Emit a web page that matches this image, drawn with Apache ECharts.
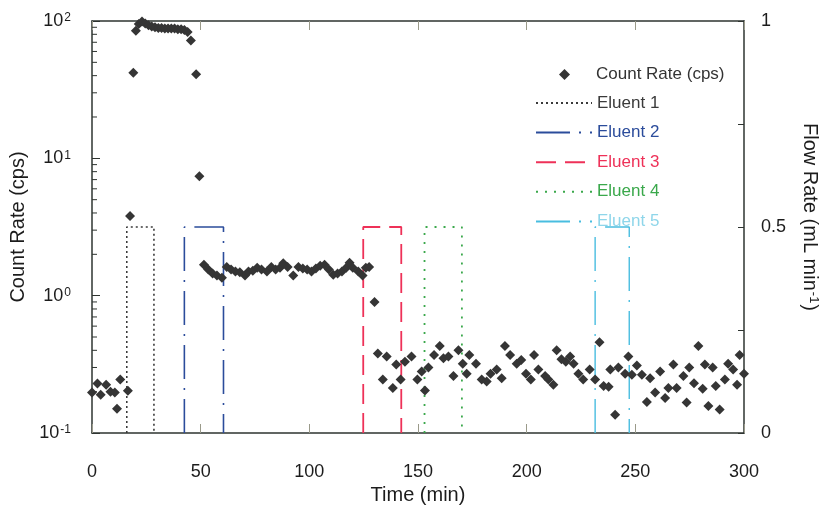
<!DOCTYPE html>
<html>
<head>
<meta charset="utf-8">
<script src="https://cdn.jsdelivr.net/npm/echarts@6/dist/echarts.min.js"></script>
<style>
  html, body { margin: 0; padding: 0; background: #ffffff; }
  #chart { width: 825px; height: 507px; }
</style>
</head>
<body>
<div id="chart"></div>
<script>
// Sampling times (min) of the count-rate measurements
const timeMin = [
  0, 2.5, 4, 6.5, 8.5, 10.5, 11.5, 13, 16.5,
  17.5, 19, 20.2, 21.5, 23, 24.5, 26, 27.5, 29, 30.5, 32, 33.5, 35, 36.5, 38, 39.5, 41, 42.5, 44, 45.5, 47.9, 49.4,
  51.5, 53.5, 55.5, 57.5, 59.8, 62, 64, 66, 68, 70.4, 72, 74, 76, 78, 80.5, 82.5, 84.5, 86.5, 88, 90,
  92.6, 95, 97, 99, 101, 103, 105, 107, 109, 111, 113, 115, 117, 118.5, 120, 122.5, 124.5, 126, 127.5, 130,
  131.5, 133.8, 135.6, 138.4, 140, 142, 144, 147, 149.7, 151.7, 153.2, 154.8, 157.4, 160, 161.7, 164,
  166.3, 168.6, 170.6, 172.4, 173.6, 176.7, 179.3, 181.6, 183.4, 186.2, 188.5, 190, 192.4, 195.4, 197.5,
  199.7, 201.9, 203.4, 205.4, 208.5, 210, 212.3, 213.8, 216, 218, 220, 221.6, 223.8, 226, 229, 231.5,
  233.5, 235.4, 237.7, 238.5, 240.7, 242.2, 245.3, 246.8, 248.4, 250.7, 253, 255.3, 256.8, 259.1, 261.4,
  263.7, 265.2, 267.5, 269, 272.1, 273.6, 274.8, 277, 279, 281, 282, 283.6, 285.6, 287, 288.8, 291.2,
  292.7, 295, 296.8, 298, 300
];
// Count rate (cps)
const countRate = [
  0.197, 0.229, 0.19, 0.225, 0.2, 0.197, 0.15, 0.245, 0.203,
  3.8, 42, 85, 95, 99, 96, 93, 91, 90, 89, 89, 88, 88, 88, 88, 87, 87, 86, 83, 72, 41, 7.4,
  1.68, 1.55, 1.45, 1.4, 1.35, 1.62, 1.55, 1.5, 1.48, 1.4, 1.5, 1.52, 1.6, 1.55, 1.5, 1.62, 1.55, 1.6, 1.72, 1.62,
  1.4, 1.62, 1.58, 1.55, 1.5, 1.58, 1.65, 1.68, 1.55, 1.42, 1.45, 1.5, 1.6, 1.74, 1.6, 1.5, 1.4, 1.6, 1.62, 0.9,
  0.38, 0.245, 0.36, 0.213, 0.315, 0.245, 0.33, 0.36, 0.245, 0.28, 0.204, 0.30, 0.37, 0.43, 0.35, 0.36,
  0.26, 0.40, 0.32, 0.27, 0.37, 0.32, 0.245, 0.237, 0.27, 0.29, 0.25, 0.43, 0.37, 0.32, 0.34,
  0.27, 0.245, 0.37, 0.29, 0.26, 0.245, 0.225, 0.40, 0.345, 0.33, 0.36, 0.32, 0.27, 0.245, 0.29, 0.245,
  0.457, 0.22, 0.217, 0.29, 0.136, 0.30, 0.27, 0.36, 0.266, 0.31, 0.266, 0.168, 0.25, 0.197, 0.28,
  0.18, 0.213, 0.315, 0.213, 0.26, 0.167, 0.30, 0.23, 0.43, 0.21, 0.315, 0.157, 0.30, 0.22, 0.148, 0.245,
  0.32, 0.29, 0.225, 0.37, 0.27
];

// Eluent programme: start / end time (min) and flow rate (mL/min)
const eluentNames = ['Eluent 1', 'Eluent 2', 'Eluent 3', 'Eluent 4', 'Eluent 5'];
const eluentStart = [16, 42.5, 124.8, 153, 231.5];
const eluentEnd = [28.5, 60.5, 142.3, 170.2, 247.2];
const eluentFlow = [0.5, 0.5, 0.5, 0.5, 0.5];

// Axis ranges and tick values
const timeRange = [0, 300];
const timeStep = 50;
const countRange = [0.1, 100];
const flowRange = [0, 1];
const flowStep = 0.25;
const flowLabels = [0, 0.5, 1];
const minorCountTicks = [
  0.2, 0.3, 0.4, 0.5, 0.6, 0.7, 0.8, 0.9,
  2, 3, 4, 5, 6, 7, 8, 9,
  20, 30, 40, 50, 60, 70, 80, 90
];

const FONT = '"Liberation Sans", Arial, Helvetica, sans-serif';
const INK = '#1c1c1c';
const AXIS = '#2e3430';

const eluentStyles = [
  { color: '#3a3a3a', type: [2, 3], width: 1.6, text: '#3a3a3a' },
  { color: '#2b4c9b', type: [34, 9, 2, 9], width: 1.6, text: '#2b4c9b' },
  { color: '#ee3158', type: [20, 9], width: 1.8, text: '#ee3158' },
  { color: '#3aa84b', type: [2, 7], width: 1.8, text: '#3aa84b' },
  { color: '#48bde0', type: [34, 9, 2, 9], width: 1.4, text: '#8fd6ea' }
];

const supRich = {
  b: { fontSize: 18, lineHeight: 18, verticalAlign: 'bottom', fontFamily: FONT, color: INK },
  s: { fontSize: 12, lineHeight: 12, verticalAlign: 'top', padding: [0, 1, 10, 1], fontFamily: FONT, color: INK }
};

const chart = echarts.init(document.getElementById('chart'), null, { renderer: 'canvas' });

const eluentSeries = eluentNames.map((name, i) => ({
  name: name,
  type: 'line',
  xAxisIndex: 0,
  yAxisIndex: 1,
  symbol: 'none',
  showSymbol: false,
  animation: false,
  silent: true,
  z: 2,
  lineStyle: { color: eluentStyles[i].color, width: eluentStyles[i].width, type: eluentStyles[i].type },
  itemStyle: { color: eluentStyles[i].color },
  data: [
    [eluentStart[i], 0],
    [eluentStart[i], eluentFlow[i]],
    [eluentEnd[i], eluentFlow[i]],
    [eluentEnd[i], 0]
  ]
}));

const option = {
  backgroundColor: '#ffffff',
  animation: false,
  textStyle: { fontFamily: FONT, color: INK },
  grid: { left: 92, right: 81, top: 21, bottom: 74, containLabel: false, outerBoundsMode: 'none' },
  legend: [
    {
      orient: 'vertical', left: 554, top: 61, itemWidth: 11, itemHeight: 11, itemGap: 10,
      textStyle: { fontSize: 17, fontFamily: FONT, color: '#333333', padding: [0, 0, 0, 21] },
      selectedMode: false,
      data: [{ name: 'Count Rate (cps)', icon: 'diamond' }]
    },
    {
      orient: 'vertical', left: 530, top: 89.5, itemWidth: 56, itemHeight: 14, itemGap: 12.6,
      textStyle: { fontSize: 17, fontFamily: FONT, lineHeight: 14, padding: [0, 0, 0, 0] },
      itemStyle: { opacity: 0, borderWidth: 0 },
      selectedMode: false,
      data: eluentNames.map((n, i) => ({ name: n, textStyle: { color: eluentStyles[i].text } }))
    }
  ],
  xAxis: [
    {
      type: 'value', min: timeRange[0], max: timeRange[1], interval: timeStep,
      position: 'bottom',
      name: 'Time (min)', nameLocation: 'middle', nameGap: 52,
      nameTextStyle: { fontSize: 20, fontFamily: FONT, color: INK },
      axisLine: { show: true, onZero: false, lineStyle: { color: AXIS, width: 1.5 } },
      axisTick: { show: true, inside: true, length: 9, lineStyle: { color: '#9a9a8a', width: 1 } },
      axisLabel: { show: true, margin: 30, fontSize: 18, fontFamily: FONT, color: INK },
      splitLine: { show: false }
    },
    {
      type: 'value', min: timeRange[0], max: timeRange[1], interval: timeStep,
      position: 'top',
      axisLine: { show: true, onZero: false, lineStyle: { color: AXIS, width: 1.5 } },
      axisTick: { show: true, inside: true, length: 9, lineStyle: { color: '#9a9a8a', width: 1 } },
      axisLabel: { show: false },
      splitLine: { show: false }
    }
  ],
  yAxis: [
    {
      type: 'log', logBase: 10, min: countRange[0], max: countRange[1],
      position: 'left',
      name: 'Count Rate (cps)', nameLocation: 'middle', nameGap: 64, nameRotate: 90,
      nameTextStyle: { fontSize: 20, fontFamily: FONT, color: INK },
      axisLine: { show: true, onZero: false, lineStyle: { color: AXIS, width: 1.5 } },
      axisTick: { show: true, inside: true, length: 8, lineStyle: { color: AXIS, width: 1 } },
      minorTick: { show: false },
      axisLabel: {
        show: true, margin: 20, align: 'right',
        formatter: v => '{b|10}{s|' + Math.round(Math.log10(v)) + '}',
        rich: supRich
      },
      splitLine: { show: false }
    },
    {
      type: 'value', min: flowRange[0], max: flowRange[1], interval: flowStep,
      position: 'right',
      name: 'Flow Rate (mL min{s|-1})', nameLocation: 'middle', nameGap: 56, nameRotate: -90,
      nameTextStyle: {
        fontSize: 20, fontFamily: FONT, color: INK, padding: [0, 20, 0, 0],
        rich: {
          s: { fontSize: 13, lineHeight: 13, verticalAlign: 'top', padding: [0, 1, 10, 1], fontFamily: FONT, color: INK }
        }
      },
      axisLine: { show: true, onZero: false, lineStyle: { color: AXIS, width: 1.5 } },
      axisTick: { show: true, inside: true, length: 6, lineStyle: { color: AXIS, width: 1 } },
      axisLabel: {
        show: true, margin: 17, align: 'left', fontSize: 18, fontFamily: FONT, color: INK,
        formatter: v => (flowLabels.some(f => Math.abs(f - v) < 1e-9) ? String(v) : '')
      },
      splitLine: { show: false }
    }
  ],
  series: [
    ...eluentSeries,
    {
      name: 'minor-ticks',
      type: 'custom',
      xAxisIndex: 0,
      yAxisIndex: 0,
      silent: true,
      clip: false,
      z: 5,
      data: minorCountTicks.map(v => [timeRange[0], v]),
      renderItem: (params, api) => {
        const p = api.coord([api.value(0), api.value(1)]);
        return {
          type: 'line',
          shape: { x1: p[0], y1: p[1], x2: p[0] + 5, y2: p[1] },
          style: { stroke: AXIS, lineWidth: 1 }
        };
      }
    },
    {
      name: 'Count Rate (cps)',
      type: 'scatter',
      xAxisIndex: 0,
      yAxisIndex: 0,
      symbol: 'diamond',
      symbolSize: 10,
      z: 10,
      itemStyle: { color: '#353535', opacity: 1 },
      data: timeMin.map((t, i) => [t, countRate[i]])
    }
  ]
};

chart.setOption(option);
</script>
</body>
</html>
